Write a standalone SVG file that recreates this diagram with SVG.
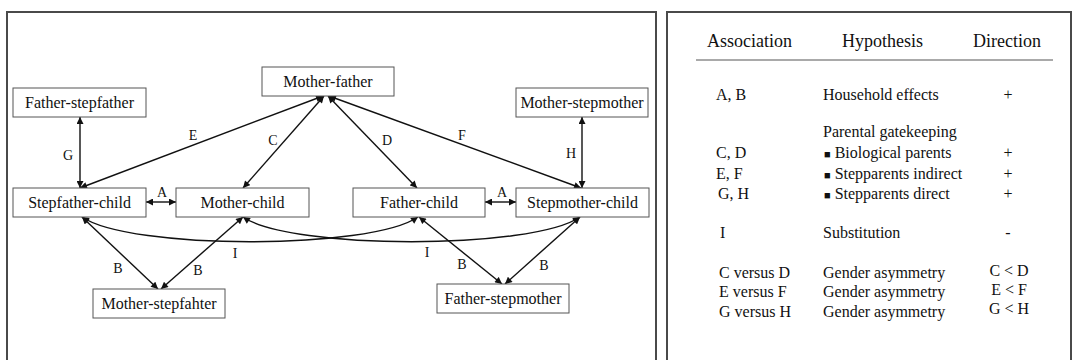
<svg xmlns="http://www.w3.org/2000/svg" width="1073" height="360" viewBox="0 0 1073 360">
<style>
  .panel { fill: #fff; stroke: #4a4a4a; stroke-width: 2; }
  .box { fill: #fff; stroke: #555; stroke-width: 1; }
  text { font-family: 'Liberation Serif', 'DejaVu Serif', serif; fill: #111; }
  .nt { font-size: 16px; text-anchor: middle; }
  .el { font-size: 14px; text-anchor: middle; }
  .edge { fill: none; stroke: #111; stroke-width: 1.4; marker-start: url(#ah); marker-end: url(#ah); }
  .th { font-size: 18px; }
  .td { font-size: 16px; }
  .mid { text-anchor: middle; }
</style>
<defs>
  <marker id="ah" viewBox="0 0 10 10" refX="10" refY="5" markerWidth="8" markerHeight="7" markerUnits="userSpaceOnUse" orient="auto-start-reverse">
    <path d="M0,0 L10,5 L0,10 z" fill="#111"/>
  </marker>
</defs>
<rect width="1073" height="360" fill="#fff"/>
<rect class="panel" x="7" y="12" width="649" height="360"/>
<rect class="panel" x="667" y="12" width="404" height="360" stroke="#666" stroke-width="1.5"/>

<g id="connectors">
  <line class="edge" x1="80" y1="117" x2="80" y2="188"/>
  <line class="edge" x1="582" y1="117" x2="582" y2="188"/>
  <line class="edge" x1="80" y1="188" x2="323" y2="96"/>
  <line class="edge" x1="243" y1="188" x2="324" y2="96"/>
  <line class="edge" x1="328" y1="96" x2="417" y2="188"/>
  <line class="edge" x1="329" y1="96" x2="581" y2="188"/>
  <line class="edge" x1="146" y1="202" x2="176" y2="202"/>
  <line class="edge" x1="485" y1="202" x2="516" y2="202"/>
  <line class="edge" x1="82" y1="217" x2="158" y2="289"/>
  <line class="edge" x1="243" y1="217" x2="161" y2="289"/>
  <line class="edge" x1="419" y1="217" x2="502" y2="284"/>
  <line class="edge" x1="580" y1="217" x2="505" y2="284"/>
  <path class="edge" d="M82,217 C130,250 370,250 418,217"/>
  <path class="edge" d="M243,217 C291,250 532,250 580,217"/>
  <text class="el" x="68" y="160">G</text>
  <text class="el" x="193" y="140">E</text>
  <text class="el" x="273" y="145">C</text>
  <text class="el" x="387" y="145">D</text>
  <text class="el" x="462" y="140">F</text>
  <text class="el" x="571" y="158">H</text>
  <text class="el" x="162" y="197">A</text>
  <text class="el" x="502" y="197">A</text>
  <text class="el" x="118" y="273">B</text>
  <text class="el" x="198" y="275">B</text>
  <text class="el" x="462" y="269">B</text>
  <text class="el" x="544" y="270">B</text>
  <text class="el" x="235" y="258">I</text>
  <text class="el" x="427" y="257">I</text>
</g>

<g id="mother-father"><rect class="box" x="262" y="67" width="132" height="29"/><text class="nt" x="328" y="87">Mother-father</text></g>
<g id="father-stepfather"><rect class="box" x="13" y="88" width="133" height="29"/><text class="nt" x="79.5" y="108">Father-stepfather</text></g>
<g id="mother-stepmother"><rect class="box" x="516" y="88" width="132" height="29"/><text class="nt" x="582" y="108">Mother-stepmother</text></g>
<g id="stepfather-child"><rect class="box" x="13" y="188" width="133" height="29"/><text class="nt" x="79.5" y="208">Stepfather-child</text></g>
<g id="mother-child"><rect class="box" x="176" y="188" width="133" height="29"/><text class="nt" x="242.5" y="208">Mother-child</text></g>
<g id="father-child"><rect class="box" x="353" y="188" width="132" height="29"/><text class="nt" x="419" y="208">Father-child</text></g>
<g id="stepmother-child"><rect class="box" x="516" y="188" width="133" height="29"/><text class="nt" x="582.5" y="208">Stepmother-child</text></g>
<g id="mother-stepfahter"><rect class="box" x="93" y="289" width="132" height="29"/><text class="nt" x="159" y="309">Mother-stepfahter</text></g>
<g id="father-stepmother"><rect class="box" x="437" y="284" width="132" height="29"/><text class="nt" x="503" y="304">Father-stepmother</text></g>

<g id="table">
  <text class="th" x="707" y="47">Association</text>
  <text class="th" x="842" y="47">Hypothesis</text>
  <text class="th" x="973" y="47">Direction</text>
  <line x1="696" y1="60" x2="1053" y2="60" stroke="#555" stroke-width="1"/>

  <text class="td" x="716" y="100">A, B</text>
  <text class="td" x="823" y="100">Household effects</text>
  <text class="td mid" x="1008" y="100">+</text>

  <text class="td" x="823" y="137">Parental gatekeeping</text>
  <text class="td" x="716" y="158">C, D</text>
  <text class="td" x="824" y="158"><tspan font-size="11">■</tspan> Biological parents</text>
  <text class="td mid" x="1008" y="158">+</text>
  <text class="td" x="716" y="178.5">E, F</text>
  <text class="td" x="824" y="178.5"><tspan font-size="11">■</tspan> Stepparents indirect</text>
  <text class="td mid" x="1008" y="178.5">+</text>
  <text class="td" x="718" y="199">G, H</text>
  <text class="td" x="824" y="199"><tspan font-size="11">■</tspan> Stepparents direct</text>
  <text class="td mid" x="1008" y="199">+</text>

  <text class="td" x="720" y="238">I</text>
  <text class="td" x="823" y="238">Substitution</text>
  <text class="td mid" x="1008" y="238">-</text>

  <text class="td" x="719" y="278">C versus D</text>
  <text class="td" x="823" y="278">Gender asymmetry</text>
  <text class="td mid" x="1009" y="276">C &lt; D</text>
  <text class="td" x="719" y="297">E versus F</text>
  <text class="td" x="823" y="297">Gender asymmetry</text>
  <text class="td mid" x="1009" y="295">E &lt; F</text>
  <text class="td" x="719" y="317">G versus H</text>
  <text class="td" x="823" y="317">Gender asymmetry</text>
  <text class="td mid" x="1009" y="314">G &lt; H</text>
</g>
</svg>
